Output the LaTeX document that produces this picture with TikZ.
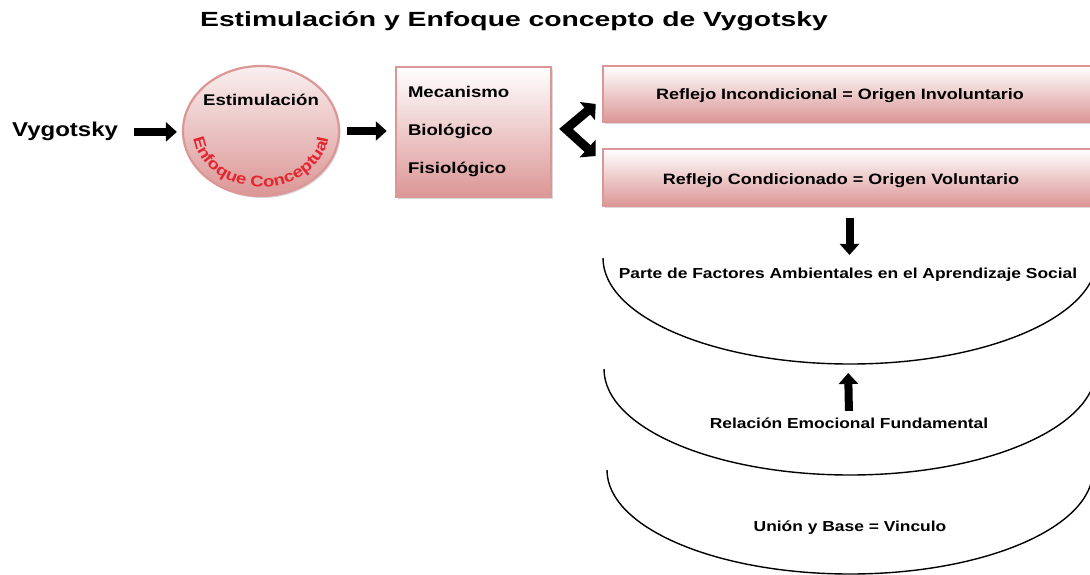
\documentclass[tikz,border=0pt]{standalone}
\usepackage{fontspec}
\setmainfont{Liberation Sans}[FakeStretch=1.2]
\newfontfamily\titlefont{Liberation Sans}[FakeStretch=1.38]
\usetikzlibrary{arrows.meta,shapes.geometric,decorations.text,shadows}

\definecolor{rosa}{RGB}{219,150,149}
\definecolor{rojo}{RGB}{228,38,48}

\tikzset{
  rbox/.style={draw=rosa,line width=2.5pt,top color=white,bottom color=rosa,
    drop shadow={shadow xshift=1.5pt,shadow yshift=-2pt,opacity=.3}},
  txt/.style={font=\fontsize{15}{18}\selectfont\bfseries,anchor=base},
  blk/.style={line width=8pt,-{Triangle[length=11pt,width=19pt]}},
  chevron/.style={line width=9pt,line join=miter,
    {Triangle[length=11pt,width=23pt]}-{Triangle[length=11pt,width=23pt]}},
  arco/.style={line width=1.4pt}
}

\begin{document}
\begin{tikzpicture}[x=1pt,y=1pt]
  \useasboundingbox (0,0) rectangle (1090,-575);

  \node[font=\titlefont\bfseries\fontsize{20.5}{24}\selectfont,anchor=base] (titulo) at (514,-27) {Estimulación y Enfoque concepto de Vygotsky};

  \node[font=\fontsize{20}{24}\selectfont\bfseries,anchor=base west,inner xsep=0pt] (vyg) at (12,-137) {Vygotsky};

  % circulo de estimulacion
  \node[ellipse,draw=rosa,line width=2.2pt,top color=rosa!15,bottom color=rosa,
        minimum width=156pt,minimum height=130pt,
        drop shadow={shadow xshift=1.5pt,shadow yshift=-2pt,opacity=.3}] (circ) at (261,-131) {};
  \node[txt,font=\fontsize{15.5}{18}\selectfont\bfseries] (estT) at (261,-106) {Estimulación};
  \path[decorate,decoration={text along path,text align=center,
        text={|\fontsize{15.5}{16}\selectfont\bfseries\color{rojo}|Enfoque Conceptual}}]
        ([shift={(178:68 and 56)}]circ.center) arc[start angle=178,end angle=362,x radius=68,y radius=56];

  \node[rbox,minimum width=155pt,minimum height=130pt,text width=131pt,inner xsep=12pt,
        align=left,font=\fontsize{15.5}{38}\selectfont\bfseries] (meca) at (473.5,-132)
        {Mecanismo\\Biológico\\Fisiológico};

  \node[rbox,minimum width=493pt,minimum height=56pt] (inc) at (849.5,-94) {};
  \node[txt] (incT) at (840,-100) {Reflejo Incondicional = Origen Involuntario};
  \node[rbox,minimum width=493pt,minimum height=57pt] (cond) at (849.5,-177.5) {};
  \node[txt] (condT) at (841,-184) {Reflejo Condicionado = Origen Voluntario};

  % arcos
  \draw[arco] (603,-258) arc[start angle=180,end angle=360,x radius=247,y radius=106];
  \draw[arco] (604,-369) arc[start angle=180,end angle=360,x radius=246,y radius=106];
  \draw[arco] (607,-470) arc[start angle=180,end angle=360,x radius=243,y radius=104];
  \coordinate (arcA) at (848,-364);

  \node[txt,font=\fontsize{14.5}{18}\selectfont\bfseries] (partT) at (848,-278) {Parte de Factores Ambientales en el Aprendizaje Social};
  \node[txt,font=\fontsize{14.5}{18}\selectfont\bfseries] (relT) at (849,-428) {Relación Emocional Fundamental};
  \node[txt,font=\fontsize{14.5}{18}\selectfont\bfseries] (unT) at (850,-531) {Unión y Base = Vinculo};

  % flechas
  \draw[blk,shorten <=16pt,shorten >=5pt] (vyg.east) -- (vyg.east -| circ.west);
  \draw[blk,shorten <=7pt,shorten >=8pt] (circ.east) -- (circ.east -| meca.west);
  \coordinate (chev) at (566,-129);
  \draw[chevron] ([shift={(-6,-10)}]inc.west) -- (chev) -- ([shift={(-6,21.5)}]cond.west);
  \draw[blk,shorten <=11pt,shorten >=9pt] (cond.south) -- (cond.south |- partT.north);
  \draw[blk,shorten <=3pt,shorten >=9pt] (relT.north) -- (arcA);
\end{tikzpicture}
\end{document}
